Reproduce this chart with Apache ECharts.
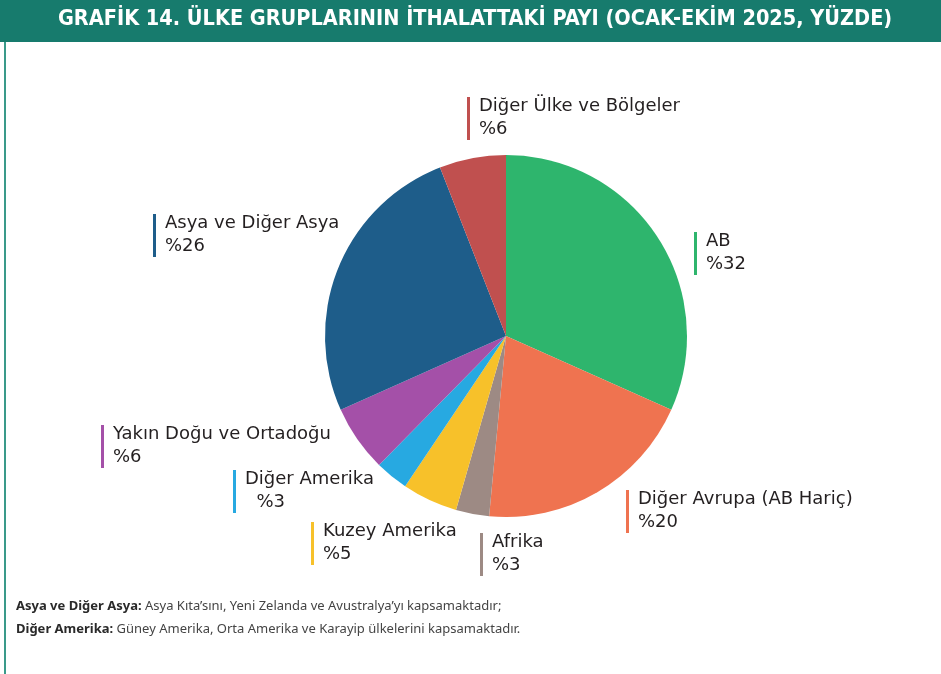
<!DOCTYPE html>
<html>
<head>
<meta charset="utf-8">
<script src="https://cdn.jsdelivr.net/npm/echarts@6/dist/echarts.min.js"></script>
<style>
html, body { margin: 0; padding: 0; background: #fff; }
#chart { width: 941px; height: 674px; }
</style>
</head>
<body>
<div id="chart"></div>
<script>
/* data */
var names = ['AB', 'Diğer Avrupa (AB Hariç)', 'Afrika', 'Kuzey Amerika', 'Diğer Amerika',
    'Yakın Doğu ve Ortadoğu', 'Asya ve Diğer Asya', 'Diğer Ülke ve Bölgeler'];
var shares = [32, 20, 3, 5, 3, 6, 26, 6];
var colors = ['#2eb56d', '#ef7350', '#9d8a84', '#f7c12a', '#27a9e1', '#a450a8', '#1e5d8a', '#c0504f'];

/* label placement: [bar x, bar top] */
var labelPos = [
    [694, 232], [626, 490], [480, 533], [311, 522],
    [233, 470], [101, 425], [153, 214], [467, 97]
];

var fontMain = '"DejaVu Sans", "Noto Sans", sans-serif';
var fontNote = '"Noto Sans", "Open Sans", sans-serif';

var pieData = names.map(function (n, i) {
    return { name: n, value: shares[i], itemStyle: { color: colors[i] } };
});

var graphics = [
    { type: 'rect', left: 0, top: 0, shape: { width: 941, height: 42 }, style: { fill: '#177b6d' } },
    { type: 'rect', left: 4, top: 42, shape: { width: 2, height: 632 }, style: { fill: '#3a9a8a' } },
    {
        type: 'text', left: 58, top: 8,
        style: {
            text: 'GRAFİK 14. ÜLKE GRUPLARININ İTHALATTAKİ PAYI (OCAK-EKİM 2025, YÜZDE)',
            fill: '#fff', font: 'bold 21.5px "DejaVu Sans Condensed", "Liberation Sans Narrow", sans-serif'
        }
    },
    {
        type: 'text', left: 16, top: 600,
        style: {
            rich: {
                b: { fontWeight: 'bold', fontSize: 13, fill: '#2a2a2a', fontFamily: fontNote, lineHeight: 23 },
                n: { fontSize: 13, fill: '#444', fontFamily: fontNote, lineHeight: 23 }
            },
            text: '{b|Asya ve Diğer Asya:}{n| Asya Kıta’sını, Yeni Zelanda ve Avustralya’yı kapsamaktadır;}\n' +
                '{b|Diğer Amerika:}{n| Güney Amerika, Orta Amerika ve Karayip ülkelerini kapsamaktadır.}'
        }
    }
];

labelPos.forEach(function (p, i) {
    graphics.push({ type: 'rect', left: p[0], top: p[1], shape: { width: 3, height: 43 }, style: { fill: colors[i] } });
});

var option = {
    backgroundColor: '#fff',
    animation: false,
    graphic: graphics,
    series: [{
        type: 'pie',
        center: [506, 336],
        radius: 181,
        startAngle: 90,
        clockwise: true,
        data: pieData,
        itemStyle: { borderWidth: 0 },
        emphasis: { disabled: true },
        labelLine: { show: false },
        label: {
            show: true,
            position: 'outside',
            formatter: function (p) {
                var ind = p.dataIndex === 4 ? '  ' : '';
                return p.name + '\n' + ind + '%' + p.value;
            },
            color: '#231f20',
            fontFamily: fontMain,
            fontSize: 18,
            lineHeight: 23,
            align: 'left'
        },
        labelLayout: function (params) {
            var p = labelPos[params.dataIndex];
            return { x: p[0] + 12, y: p[1] - 2, align: 'left', verticalAlign: 'top' };
        }
    }]
};

var chart = echarts.init(document.getElementById('chart'));
chart.setOption(option);
</script>
</body>
</html>
